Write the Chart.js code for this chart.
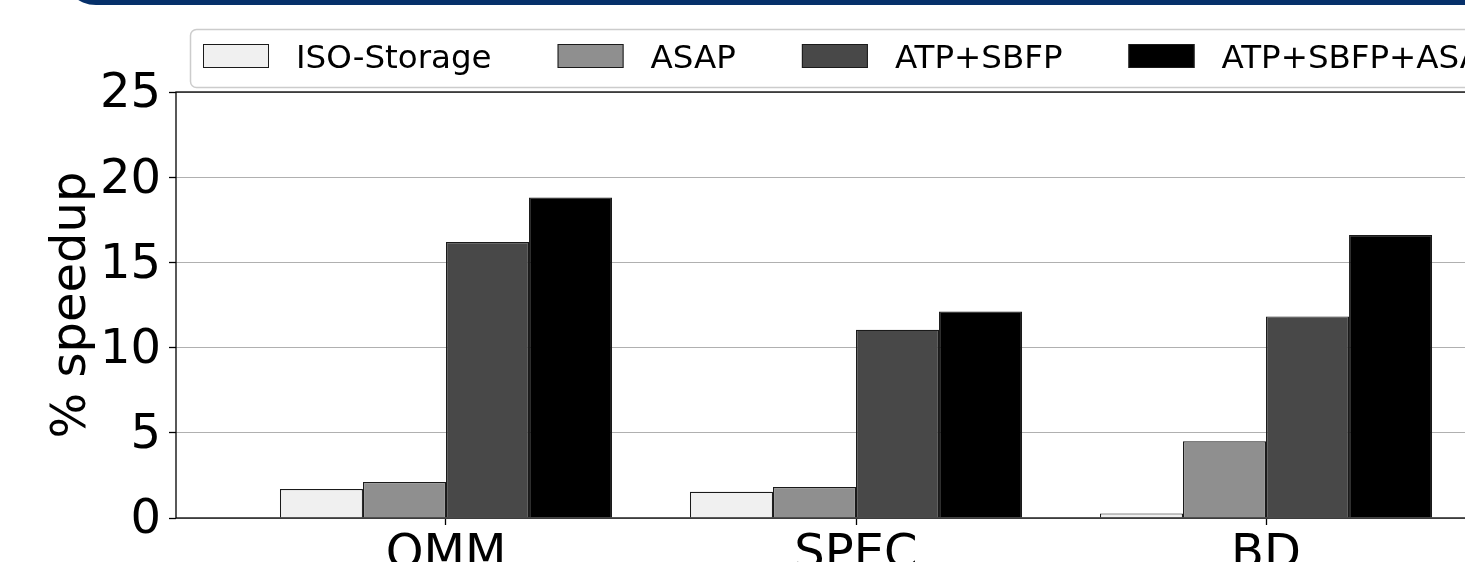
<!DOCTYPE html>
<html>
<head>
<meta charset="utf-8">
<style>
  html, body { margin: 0; padding: 0; background: #fff; overflow: hidden; width: 1465px; height: 562px; }
  .banda { position: absolute; left: 62px; top: -40px; width: 1500px; height: 45px; background: #06306a; border-radius: 0 0 0 34px; }
  #wrap { position: absolute; left: 0; top: 0; width: 1600px; height: 640px; }
</style>
<script src="https://cdn.jsdelivr.net/npm/chart.js@4.4.1/dist/chart.umd.min.js"></script>
</head>
<body>
<div class="banda"></div>
<div id="wrap"><canvas id="speedupChart" width="1600" height="640"></canvas></div>
<script>
/* ================= DATOS ================= */
const categorias = ['OMM', 'SPEC', 'BD'];
const nombresSeries = ['ISO-Storage', 'ASAP', 'ATP+SBFP', 'ATP+SBFP+ASAP'];
const isoStorage = [1.70, 1.54, 0.27];
const asap = [2.11, 1.82, 4.50];
const atpSbfp = [16.20, 11.05, 11.83];
const atpSbfpAsap = [18.81, 12.12, 16.61];
const yTicks = [0, 5, 10, 15, 20, 25];

/* ================= ESTILO ================= */
const FUENTE = '"DejaVu Sans", sans-serif';
const colores = ['#f0f0f0', '#8f8f8f', '#484848', '#000000'];
const valoresSeries = [isoStorage, asap, atpSbfp, atpSbfpAsap];

Chart.defaults.font.family = FUENTE;
Chart.defaults.color = '#000';

// Ejes negros en los cuatro lados (como matplotlib)
const marcoPlugin = {
    id: 'marco',
    afterDatasetsDraw(chart) {
        const { ctx, chartArea: a } = chart;
        ctx.save();
        ctx.strokeStyle = '#000';
        ctx.lineWidth = 1.3;
        ctx.strokeRect(a.left, a.top, a.right - a.left, a.bottom - a.top);
        ctx.restore();
    }
};

// Leyenda con marco redondeado
const leyendaPlugin = {
    id: 'leyendaPropia',
    afterDraw(chart) {
        const ctx = chart.ctx;
        ctx.save();
        ctx.beginPath();
        ctx.roundRect(190.5, 29.5, 1380, 58, 6);
        ctx.fillStyle = 'rgba(255,255,255,0.8)';
        ctx.fill();
        ctx.strokeStyle = '#cccccc';
        ctx.lineWidth = 1.5;
        ctx.stroke();

        ctx.font = '32.5px ' + FUENTE;
        ctx.textBaseline = 'alphabetic';
        let x = 203;
        nombresSeries.forEach((nombre, i) => {
            ctx.fillStyle = colores[i];
            ctx.fillRect(x, 44, 66, 24);
            ctx.strokeStyle = '#1a1a1a';
            ctx.lineWidth = 1;
            ctx.strokeRect(x + 0.5, 44.5, 65, 23);
            ctx.fillStyle = '#000';
            const tx = x + 93;
            ctx.fillText(nombre, tx, 68);
            x = tx + ctx.measureText(nombre).width + 66;
        });
        ctx.restore();
    }
};

new Chart(document.getElementById('speedupChart').getContext('2d'), {
    type: 'bar',
    data: {
        datasets: nombresSeries.map((nombre, i) => ({
            label: nombre,
            data: valoresSeries[i].map((v, j) => ({ x: j, y: v })),
            backgroundColor: colores[i],
            borderColor: '#1a1a1a',
            borderWidth: 1.2,
            categoryPercentage: 0.81,
            barPercentage: 1.0
        }))
    },
    options: {
        responsive: false,
        devicePixelRatio: 1,
        animation: false,
        layout: { padding: { top: 92, right: 64, left: 0, bottom: 0 } },
        scales: {
            x: {
                type: 'linear',
                offset: false,
                min: -0.6585,
                max: 2.6585,
                afterBuildTicks: s => { s.ticks = categorias.map((c, i) => ({ value: i })); },
                afterFit: s => { s.height = 122; },
                ticks: {
                    callback: v => categorias[v],
                    font: { size: 48 },
                    color: '#000',
                    padding: 2,
                    maxRotation: 0,
                    autoSkip: false
                },
                grid: { offset: false, drawOnChartArea: false, drawTicks: true, tickLength: 7, tickColor: '#000', tickWidth: 1.3 },
                border: { display: false }
            },
            y: {
                min: 0,
                max: 25,
                afterBuildTicks: s => { s.ticks = yTicks.map(v => ({ value: v })); },
                afterFit: s => { s.width = 176; },
                ticks: { font: { size: 48 }, color: '#000', padding: 8, labelOffset: 3 },
                grid: { color: '#b0b0b0', lineWidth: 1, tickLength: 7, tickColor: '#000', tickWidth: 1.3 },
                border: { display: false },
                title: { display: true, text: '% speedup', font: { size: 48 }, color: '#000', padding: { top: 44 } }
            }
        },
        plugins: {
            legend: { display: false },
            tooltip: { enabled: false }
        }
    },
    plugins: [marcoPlugin, leyendaPlugin]
});
</script>
</body>
</html>
